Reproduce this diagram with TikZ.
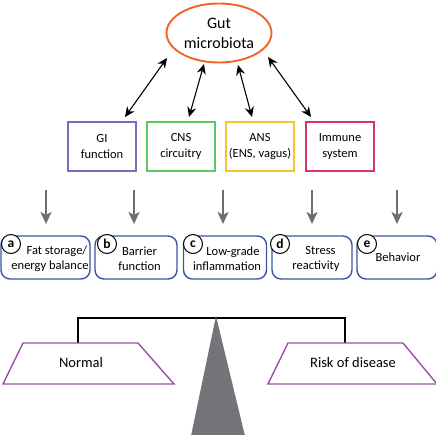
\documentclass[tikz,border=0pt]{standalone}
\usepackage{fontspec}
\setmainfont{Carlito}
\usetikzlibrary{arrows.meta,shapes.geometric}
\definecolor{orng}{HTML}{F06424}
\definecolor{gipurple}{HTML}{7B6BBF}
\definecolor{cnsgreen}{HTML}{5DC862}
\definecolor{ansyellow}{HTML}{F7C32E}
\definecolor{immred}{HTML}{D8356A}
\definecolor{effblue}{HTML}{3B55A5}
\definecolor{trappurple}{HTML}{9C4FA8}
\definecolor{fulcgray}{HTML}{737477}
\definecolor{arrgray}{HTML}{6D6E71}
\begin{document}
\begin{tikzpicture}[x=1pt,y=-1pt,
  sysbox/.style={draw,line width=1.4pt,minimum width=68pt,minimum height=49pt,inner sep=0pt,align=center,font=\fontsize{12.5}{16}\selectfont},
  effbox/.style={draw=effblue,line width=1.4pt,rounded corners=9pt,minimum height=43pt,inner sep=0pt},
  efftext/.style={align=center,font=\fontsize{12.5}{15}\selectfont,inner sep=0pt},
  letter/.style={circle,draw,fill=white,line width=1pt,minimum size=19pt,inner sep=0pt,font=\bfseries\fontsize{13.5}{13.5}\selectfont},
  biarrow/.style={{Stealth[length=10pt,width=9pt]}-{Stealth[length=10pt,width=9pt]},line width=1.1pt},
  downarrow/.style={-{Stealth[length=12pt,width=11pt,inset=3pt]},line width=1.7pt,arrgray},
  pan/.style={draw=trappurple,line width=1.4pt,fill=white}
]
\useasboundingbox (0,0) rectangle (436,435);

% gut microbiota
\node[ellipse,draw=orng,line width=1.9pt,minimum width=105pt,minimum height=59pt,align=center,inner sep=0pt,font=\fontsize{16}{20}\selectfont] (gut) at (219,33) {Gut\\microbiota};

% system boxes
\node[sysbox,draw=gipurple] (gi) at (102,146.5) {GI\\function};
\node[sysbox,draw=cnsgreen] (cns) at (181,146.5) {CNS\\circuitry};
\node[sysbox,draw=ansyellow] (ans) at (260,146.5) {ANS\\(ENS, vagus)};
\node[sysbox,draw=immred] (imm) at (340,146.5) {Immune\\system};

% arrow end coordinates
\coordinate (g1) at (167,58);
\coordinate (g2) at (204,64);
\coordinate (g3) at (238,65);
\coordinate (g4) at (268,57);
\coordinate (b1) at (125,117);
\coordinate (b2) at (189,117);
\coordinate (b3) at (252,117);
\coordinate (b4) at (311,117);
\draw[biarrow] (g1) -- (b1);
\draw[biarrow] (g2) -- (b2);
\draw[biarrow] (g3) -- (b3);
\draw[biarrow] (g4) -- (b4);

% effect boxes
\node[effbox,minimum width=89pt] (ea) at (45.5,257.5) {};
\node[effbox,minimum width=82pt] (eb) at (136,257.5) {};
\node[effbox,minimum width=83pt] (ec) at (225,257.5) {};
\node[effbox,minimum width=80pt] (ed) at (312,257.5) {};
\node[effbox,minimum width=80pt] (ee) at (397,257.5) {};

\node[efftext] (ta) at (50,259) {\hspace*{14pt}Fat storage/\\energy balance};
\node[efftext] (tb) at (139.5,258.5) {Barrier\\function};
\node[efftext] (tc) at (227,258.5) {\hspace*{12pt}Low-grade\\inflammation};
\node[efftext] (td) at (316,258.5) {\hspace*{9pt}Stress\\reactivity};
\node[efftext] (te) at (398,257) {Behavior};

\node[letter] (la) at (11,244) {a};
\node[letter] (lb) at (107,244) {b};
\node[letter] (lc) at (193,244) {c};
\node[letter] (ld) at (280,244) {d};
\node[letter] (le) at (367,244) {e};

% gray down arrows
\coordinate (ua) at (46,190);
\coordinate (ub) at (134,190);
\coordinate (uc) at (223,190);
\coordinate (ud) at (312,190);
\coordinate (ue) at (397,190);
\draw[downarrow] (ua) -- (46,224);
\draw[downarrow] (ub) -- (134,224);
\draw[downarrow] (uc) -- (223,224);
\draw[downarrow] (ud) -- (312,224);
\draw[downarrow] (ue) -- (397,224);

% balance
\draw[line width=1.3pt] (78,343) -- (78,318) -- (345,318) -- (345,343);
\fill[fulcgray] (216,316) -- (245,436) -- (191,436) -- cycle;
\draw[pan] (23,343) -- (138,343) -- (174,384) -- (3,384) -- cycle;
\draw[pan] (288,343) -- (403,343) -- (437,384) -- (268,384) -- cycle;
\node[font=\fontsize{14.5}{16}\selectfont] (normal) at (81,363) {Normal};
\node[font=\fontsize{14.5}{16}\selectfont] (risk) at (353,363) {Risk of disease};
\end{tikzpicture}
\end{document}
